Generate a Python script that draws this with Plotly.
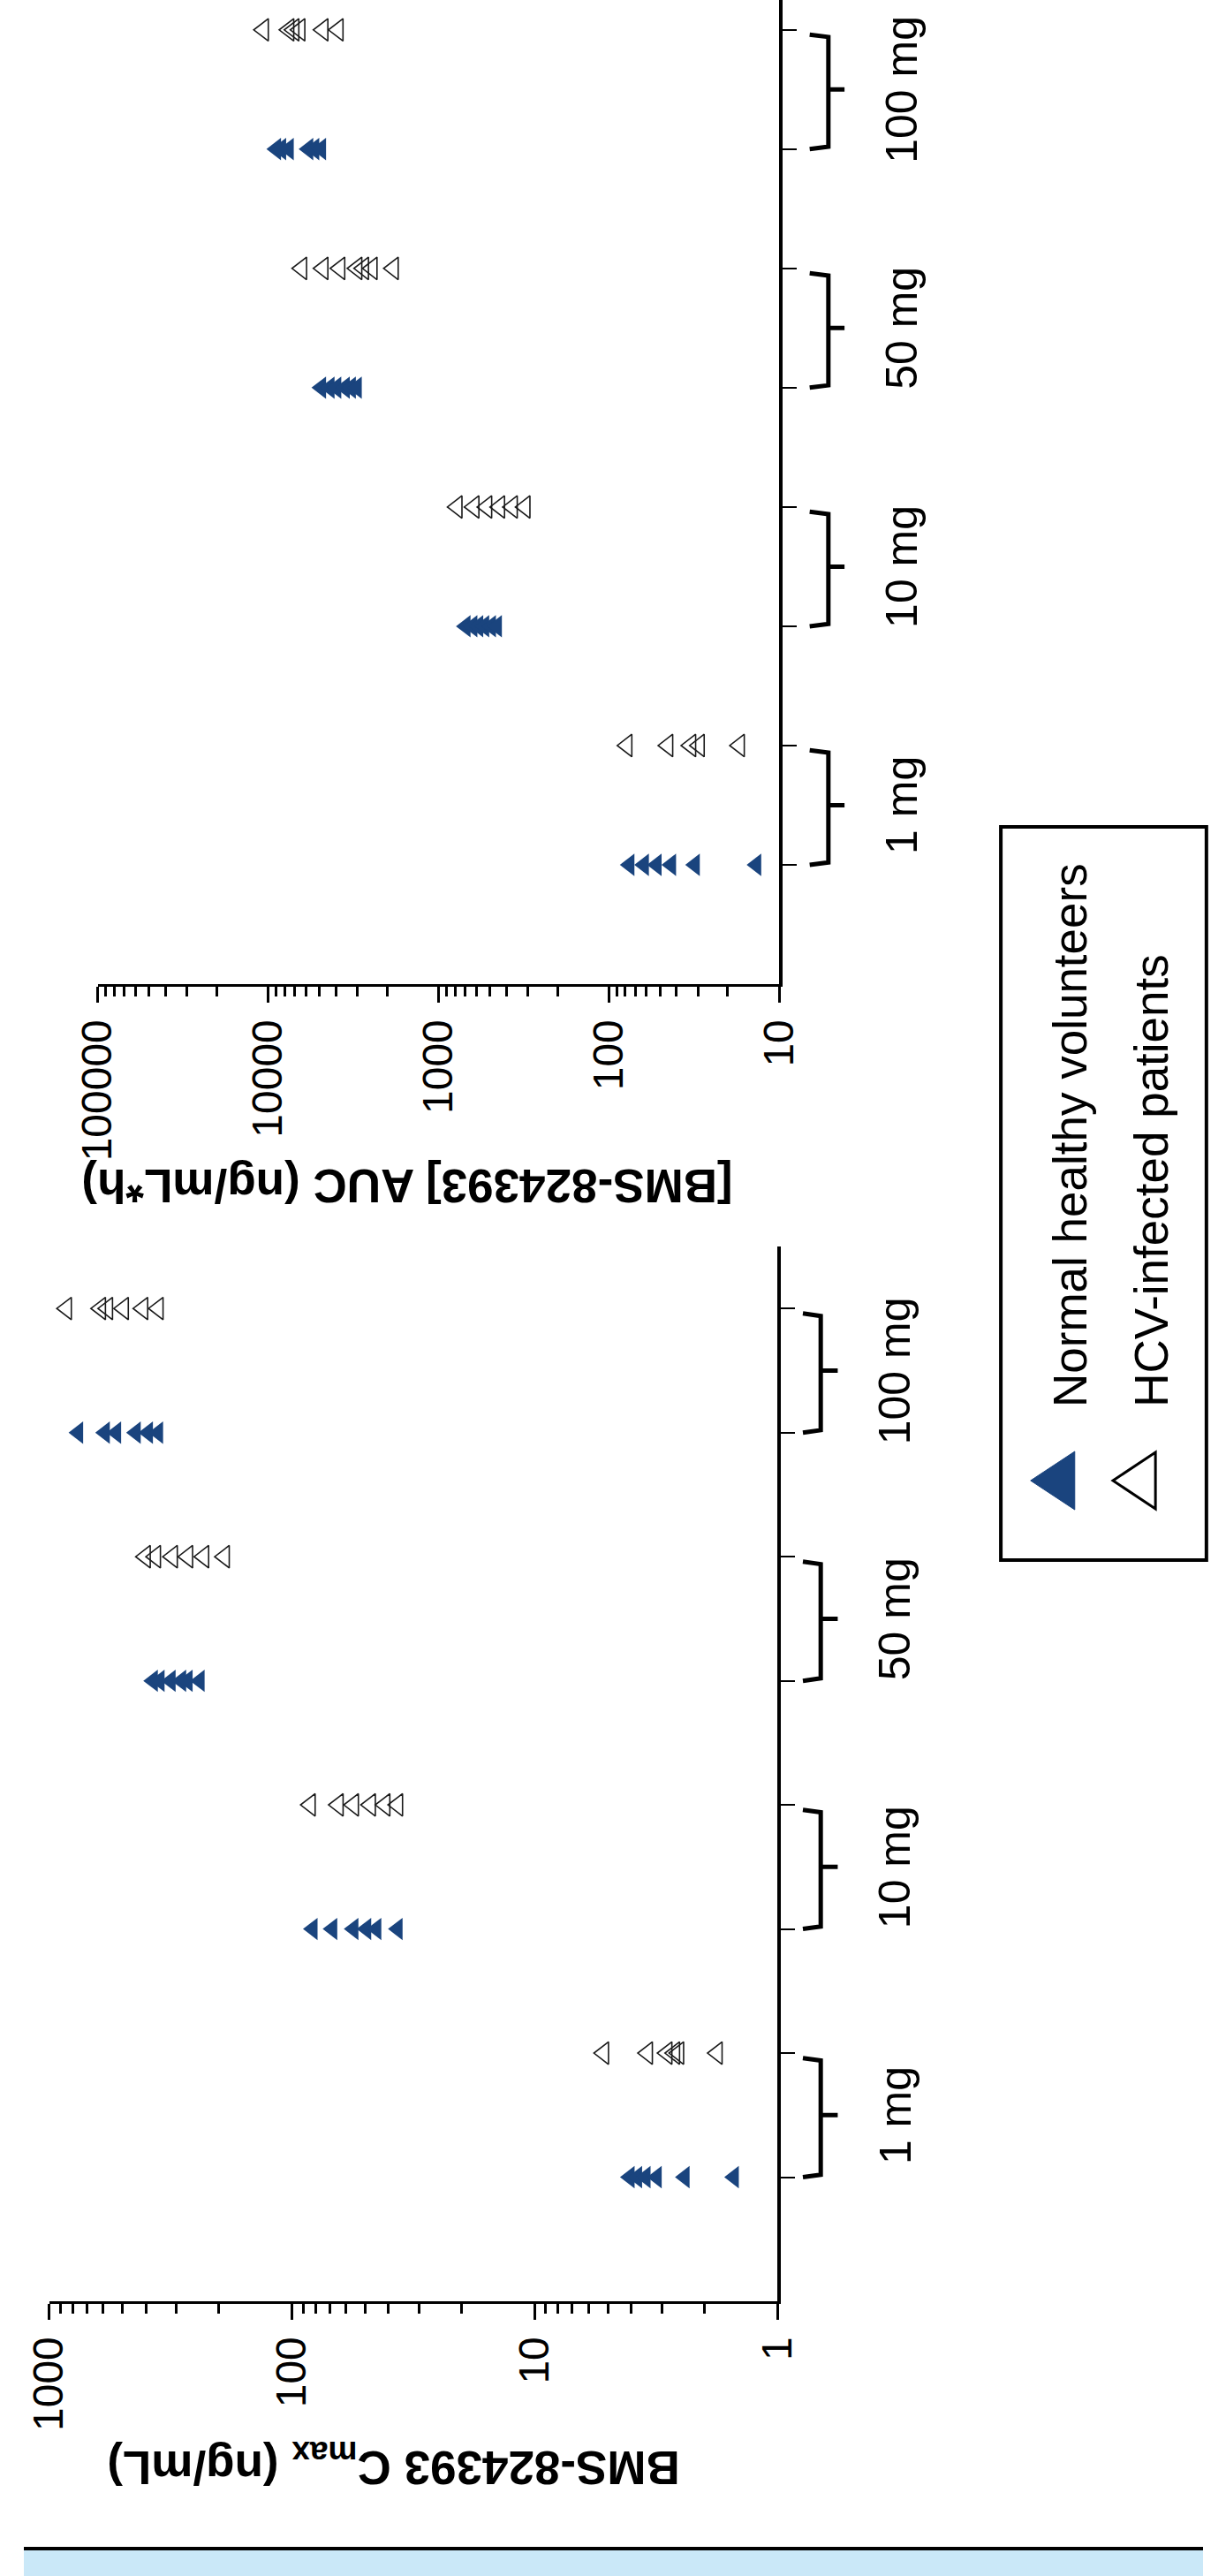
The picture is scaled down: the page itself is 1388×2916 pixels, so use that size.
import plotly.graph_objects as go

W, H = 1388, 2916
FONT = "Liberation Sans, Arial, Helvetica, sans-serif"
BLUE = "#1a447e"

# ---------------- data ----------------
doses = ["1 mg", "10 mg", "50 mg", "100 mg"]

cmax_nhv_1mg = [4.06, 3.78, 3.49, 3.14, 2.41, 1.51]
cmax_hcv_1mg = [5.2, 3.43, 2.85, 2.65, 2.55, 1.77]
cmax_nhv_10mg = [82.2, 68.2, 55.8, 49.4, 44.9, 36.7]
cmax_hcv_10mg = [84.1, 64.5, 55.8, 47.5, 41.4, 36.7]
cmax_nhv_50mg = [374, 351, 316, 286, 269, 240]
cmax_hcv_50mg = [402, 365, 311, 269, 231, 190]
cmax_nhv_100mg = [760, 590, 530, 440, 392, 356]
cmax_hcv_100mg = [850, 615, 575, 495, 412, 356]

auc_nhv_1mg = [75.5, 62.1, 52.3, 43.0, 31.2, 13.6]
auc_hcv_1mg = [78.2, 45.0, 33.0, 29.4, 17.1]
auc_nhv_10mg = [692, 631, 583, 538, 491, 453]
auc_hcv_10mg = [777, 618, 520, 437, 368, 310]
auc_nhv_50mg = [4880, 4350, 3970, 3540, 3260, 3010]
auc_hcv_50mg = [6350, 4760, 3790, 3010, 2750, 2450, 1840]
auc_nhv_100mg = [8970, 8370, 7550, 5800, 5350, 4880]
auc_hcv_100mg = [10650, 7550, 7050, 6500, 4760, 3880]

auc_ticks = [10, 100, 1000, 10000, 100000]
cmax_ticks = [1, 10, 100, 1000]

series_names = ["Normal healthy volunteers", "HCV-infected patients"]
cmax_title = "<b>BMS-824393 C<sub>max</sub> (ng/mL)</b>"
auc_title = "<b>[BMS-824393] AUC (ng/mL*h)</b>"

# ---------------- helpers ----------------
def px(x):
    return x / W


def py(y):
    return 1 - y / H


def group_xy(groups, offset):
    xs, ys = [], []
    for i, vals in enumerate(groups):
        xs += vals
        ys += [2 * i + offset] * len(vals)
    return xs, ys


fig = go.Figure()

panels = [
    ("x", "y", [auc_nhv_1mg, auc_nhv_10mg, auc_nhv_50mg, auc_nhv_100mg],
     [auc_hcv_1mg, auc_hcv_10mg, auc_hcv_50mg, auc_hcv_100mg]),
    ("x2", "y2", [cmax_nhv_1mg, cmax_nhv_10mg, cmax_nhv_50mg, cmax_nhv_100mg],
     [cmax_hcv_1mg, cmax_hcv_10mg, cmax_hcv_50mg, cmax_hcv_100mg]),
]

for xa, ya, nhv, hcv in panels:
    x1, y1 = group_xy(nhv, 1)
    x2, y2 = group_xy(hcv, 2)
    fig.add_trace(go.Scatter(x=x1, y=y1, xaxis=xa, yaxis=ya, mode="markers",
                             name=series_names[0], showlegend=False,
                             marker=dict(symbol="triangle-left", size=22, color=BLUE,
                                         line=dict(width=0))))
    fig.add_trace(go.Scatter(x=x2, y=y2, xaxis=xa, yaxis=ya, mode="markers",
                             name=series_names[1], showlegend=False,
                             marker=dict(symbol="triangle-left-open", size=22, color="#1a1a1a",
                                         line=dict(width=1.6))))

val_axis = dict(type="log", showline=True, linecolor="black", linewidth=3,
                ticks="outside", ticklen=18, tickwidth=3, tickcolor="black",
                tickangle=-90, tickfont=dict(family=FONT, size=48, color="black"),
                showgrid=False, zeroline=False,
                minor=dict(ticks="outside", ticklen=11, tickwidth=3, tickcolor="black",
                           dtick="D1", showgrid=False))
cat_axis = dict(side="right", showline=True, linecolor="black", linewidth=4,
                ticks="outside", ticklen=16, tickwidth=2, tickcolor="black",
                tickvals=list(range(1, 9)), showticklabels=False,
                showgrid=False, zeroline=False)

fig.update_layout(
    width=W, height=H,
    margin=dict(l=0, r=0, t=0, b=0),
    paper_bgcolor="white", plot_bgcolor="white",
    showlegend=False,
    xaxis=dict(val_axis, domain=[px(87), px(889)], range=[5, 1], anchor="y",
               tickvals=auc_ticks, ticktext=[str(v) for v in auc_ticks]),
    yaxis=dict(cat_axis, domain=[py(1114), 1], range=[0, 8.25], anchor="x"),
    xaxis2=dict(val_axis, domain=[px(30), px(887)], range=[3, 0], anchor="y2",
                tickvals=cmax_ticks, ticktext=[str(v) for v in cmax_ticks]),
    yaxis2=dict(cat_axis, domain=[py(2605), py(1411)], range=[0, 8.5], anchor="x2"),
)

shapes = []
annotations = []

# brackets + dose labels
for ya, xs, xb, xn, xl in [("y", 925, 947, 966, 1034), ("y2", 917, 938, 958, 1026)]:
    for i, d in enumerate(doses):
        lo, hi = 2 * i + 1, 2 * i + 2
        mid = (lo + hi) / 2
        path = (f"M{px(xs)},{hi - 0.04} L{px(xb)},{hi - 0.06} L{px(xb)},{lo + 0.02} "
                f"L{px(xs)},{lo} M{px(xb)},{mid} L{px(xn)},{mid}")
        shapes.append(dict(type="path", path=path, xref="paper", yref=ya,
                           line=dict(color="black", width=5)))
        annotations.append(dict(text=d, xref="paper", yref=ya, x=px(xl), y=mid,
                                textangle=-90, showarrow=False,
                                font=dict(family=FONT, size=50, color="black"),
                                xanchor="center", yanchor="middle"))

# axis titles (upside down, as in the rotated figure)
annotations.append(dict(text=auc_title, xref="paper", yref="paper", x=px(451), y=py(1342),
                        textangle=180, showarrow=False,
                        font=dict(family=FONT, size=53, color="black"),
                        xanchor="center", yanchor="middle"))
annotations.append(dict(text=cmax_title, xref="paper", yref="paper", x=px(435), y=py(2790),
                        textangle=180, showarrow=False,
                        font=dict(family=FONT, size=53, color="black"),
                        xanchor="center", yanchor="middle"))

# legend box
shapes.append(dict(type="rect", xref="paper", yref="paper",
                   x0=px(1150), x1=px(1392), y0=py(1766), y1=py(936),
                   line=dict(color="black", width=4), fillcolor="rgba(0,0,0,0)"))
shapes.append(dict(type="path", xref="paper", yref="paper",
                   path=f"M{px(1185)},{py(1676)} L{px(1237)},{py(1643)} L{px(1237)},{py(1709)} Z",
                   fillcolor=BLUE, line=dict(color=BLUE, width=1)))
shapes.append(dict(type="path", xref="paper", yref="paper",
                   path=f"M{px(1282)},{py(1676)} L{px(1332)},{py(1644)} L{px(1332)},{py(1708)} Z",
                   fillcolor="white", line=dict(color="black", width=3)))
annotations.append(dict(text=series_names[0], xref="paper", yref="paper",
                        x=px(1231), y=py(1595), textangle=-90, showarrow=False,
                        font=dict(family=FONT, size=53, color="black"),
                        xanchor="center", yanchor="bottom"))
annotations.append(dict(text=series_names[1], xref="paper", yref="paper",
                        x=px(1327), y=py(1595), textangle=-90, showarrow=False,
                        font=dict(family=FONT, size=53, color="black"),
                        xanchor="center", yanchor="bottom"))

# bottom page band
shapes.append(dict(type="rect", xref="paper", yref="paper", x0=0, x1=1,
                   y0=0, y1=py(2886), fillcolor="#cae8f8", line=dict(width=0), layer="below"))
shapes.append(dict(type="line", xref="paper", yref="paper", x0=0, x1=1,
                   y0=py(2885), y1=py(2885), line=dict(color="black", width=4)))

fig.update_layout(shapes=shapes, annotations=annotations)

fig.write_html("out.html")
